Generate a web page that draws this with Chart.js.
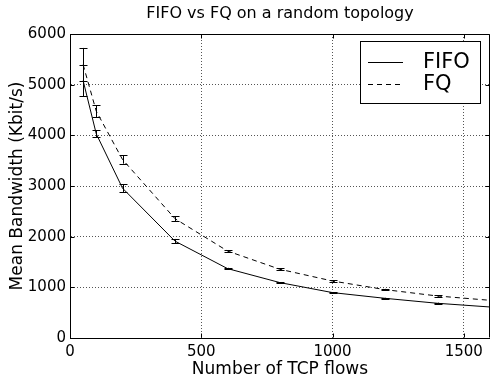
<!DOCTYPE html>
<html><head><meta charset="utf-8">
<script src="https://cdn.jsdelivr.net/npm/chart.js@4.4.0/dist/chart.umd.min.js"></script>
<style>html,body{margin:0;padding:0;background:#fff}#wrap{width:490px;height:383px}</style>
</head><body><div id="wrap"><canvas id="c" width="490" height="383"></canvas></div>
<script>
const flows = [50, 100, 200, 400, 600, 800, 1000, 1200, 1400, 1600];
const fifoMean = [5080, 4030, 2957, 1912, 1370, 1093, 896, 783, 685, 612];
const fifoErr  = [310, 70, 75, 43, 15, 12, 12, 10, 12, null];
const fqMean   = [5395, 4477, 3523, 2355, 1717, 1356, 1125, 955, 829, 744];
const fqErr    = [330, 115, 82, 52, 20, 18, 20, 15, 12, null];
const seriesNames = ['FIFO', 'FQ'];
const xTicks = [0, 500, 1000, 1500];
const yTicks = [0, 1000, 2000, 3000, 4000, 5000, 6000];
const titleText = 'FIFO vs FQ on a random topology';
const xTitle = 'Number of TCP flows';
const yTitle = 'Mean Bandwidth (Kbit/s)';
const FONT = "'DejaVu Sans', sans-serif";

const toPts = (xs, ys) => xs.map((x, i) => ({x: x, y: ys[i]}));

const framePlugin = {
  id: 'frame',
  beforeDraw(chart) {
    const c = chart.ctx; c.save(); c.fillStyle = '#fff';
    c.fillRect(0, 0, chart.width, chart.height); c.restore();
  },
  afterDatasetsDraw(chart) {
    const c = chart.ctx, a = chart.chartArea;
    const xs = chart.scales.x, ys = chart.scales.y;
    c.save();
    c.beginPath(); c.rect(a.left, a.top, a.right - a.left + 1, a.bottom - a.top + 1); c.clip();
    const errs = [fifoErr, fqErr];
    chart.data.datasets.forEach((ds, di) => {
      c.strokeStyle = '#000'; c.lineWidth = 1; c.setLineDash([]);
      ds.data.forEach((p, i) => {
        const e = errs[di][i];
        if (e == null) return;
        const px = Math.round(xs.getPixelForValue(p.x)) + 0.5;
        const y1 = ys.getPixelForValue(p.y - e), y2 = ys.getPixelForValue(p.y + e);
        c.beginPath();
        c.moveTo(px, y1); c.lineTo(px, y2);
        c.moveTo(px - 4, Math.round(y1) + 0.5); c.lineTo(px + 4, Math.round(y1) + 0.5);
        c.moveTo(px - 4, Math.round(y2) + 0.5); c.lineTo(px + 4, Math.round(y2) + 0.5);
        c.stroke();
      });
    });
    c.restore();
    c.save();
    c.strokeStyle = '#000'; c.lineWidth = 1; c.setLineDash([]);
    const L = Math.round(a.left) + 0.5, R = Math.round(a.right) - 0.5, T = Math.round(a.top) + 0.5, B = Math.round(a.bottom) - 0.5;
    c.beginPath(); c.moveTo(L, T); c.lineTo(R, T); c.lineTo(R, B); c.stroke();
    c.beginPath();
    xs.ticks.forEach(t => {
      const px = Math.round(xs.getPixelForValue(t.value)) + 0.5;
      c.moveTo(px, B); c.lineTo(px, B - 4);
      c.moveTo(px, T); c.lineTo(px, T + 4);
    });
    ys.ticks.forEach(t => {
      const py = Math.round(ys.getPixelForValue(t.value)) + 0.5;
      c.moveTo(L, py); c.lineTo(L + 4, py);
      c.moveTo(R, py); c.lineTo(R - 4, py);
    });
    c.stroke();
    const bx = 360.5, by = 41.5, bw = 120, bh = 62;
    c.fillStyle = '#fff'; c.fillRect(bx, by, bw, bh);
    c.strokeRect(bx, by, bw, bh);
    c.font = '21px ' + FONT; c.fillStyle = '#000'; c.textBaseline = 'middle'; c.textAlign = 'left';
    const rows = [62, 84];
    chart.data.datasets.forEach((ds, di) => {
      c.setLineDash(di === 0 ? [] : [5, 4]);
      c.beginPath(); c.moveTo(368, rows[di] + 0.5); c.lineTo(403, rows[di] + 0.5); c.stroke();
      c.fillText(ds.label, 423, rows[di] + 1);
    });
    c.setLineDash([]);
    c.font = '16px ' + FONT; c.textAlign = 'center'; c.textBaseline = 'middle';
    c.fillText(titleText, (a.left + a.right) / 2, 14);
    c.restore();
  }
};

new Chart(document.getElementById('c'), {
  type: 'scatter',
  data: {
    datasets: [
      {label: seriesNames[0], data: toPts(flows, fifoMean), showLine: true, borderColor: '#000', borderWidth: 1, pointRadius: 0, tension: 0},
      {label: seriesNames[1], data: toPts(flows, fqMean), showLine: true, borderColor: '#000', borderWidth: 1, borderDash: [5, 4], pointRadius: 0, tension: 0}
    ]
  },
  options: {
    responsive: false, animation: false,
    layout: {padding: {top: 34, right: 0, left: 0, bottom: 0}},
    plugins: {legend: {display: false}, tooltip: {enabled: false}, title: {display: false}},
    scales: {
      x: {
        type: 'linear', min: 0, max: 1600,
        afterFit: s => { s.height = 45; },
        afterBuildTicks: s => { s.ticks = xTicks.map(v => ({value: v})); },
        ticks: {color: '#000', font: {family: FONT, size: 15}, padding: 5, maxRotation: 0, autoSkip: false, callback: v => String(v)},
        grid: {color: '#555', lineWidth: 1, drawTicks: false},
        border: {display: true, color: '#000', width: 1, dash: [1, 2]},
        title: {display: true, text: xTitle, color: '#000', font: {family: FONT, size: 17}, padding: {top: 0, bottom: 3}}
      },
      y: {
        type: 'linear', min: 0, max: 6000,
        afterFit: s => { s.width = 70; },
        afterBuildTicks: s => { s.ticks = yTicks.map(v => ({value: v})); },
        ticks: {color: '#000', font: {family: FONT, size: 15}, padding: 4, autoSkip: false, callback: v => String(v)},
        grid: {color: '#555', lineWidth: 1, drawTicks: false},
        border: {display: true, color: '#000', width: 1, dash: [1, 2]},
        title: {display: true, text: yTitle, color: '#000', font: {family: FONT, size: 17}, padding: {top: 7, bottom: 0}}
      }
    }
  },
  plugins: [framePlugin]
});
</script></body></html>
